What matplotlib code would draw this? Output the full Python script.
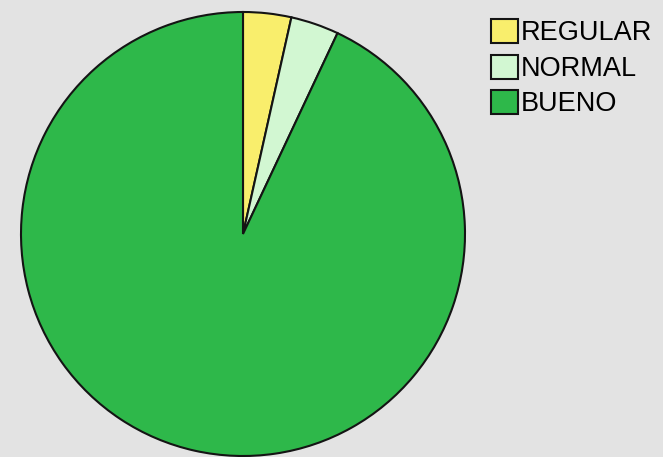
import matplotlib.pyplot as plt

categories = ["REGULAR", "NORMAL", "BUENO"]
shares = [3.5, 3.5, 93.0]
colors = ["#f9ee6c", "#d2f7d2", "#2eb84a"]

plt.rcParams["font.family"] = ["Liberation Sans", "DejaVu Sans"]

fig = plt.figure(figsize=(6.63, 4.57), dpi=100, facecolor="#e3e3e3")
ax = fig.add_axes([21 / 663, 1 / 457, 444 / 663, 444 / 457])
ax.set_facecolor("#e3e3e3")

wedges, _ = ax.pie(
    shares,
    colors=colors,
    startangle=90,
    counterclock=False,
    wedgeprops={"edgecolor": "#141414", "linewidth": 1.5},
)
ax.set_xlim(-1.0, 1.0)
ax.set_ylim(-1.0, 1.0)
ax.set_aspect("equal")
ax.axis("off")

fig.legend(
    wedges,
    categories,
    loc="upper left",
    bbox_to_anchor=(491 / 663, 1 - 19 / 457),
    frameon=False,
    fontsize=19.5,
    handlelength=1.0,
    handleheight=1.0,
    handletextpad=0.1,
    labelspacing=0.3,
    borderpad=0.0,
    borderaxespad=0.0,
)

fig.savefig("out.png", dpi=100, facecolor=fig.get_facecolor())
